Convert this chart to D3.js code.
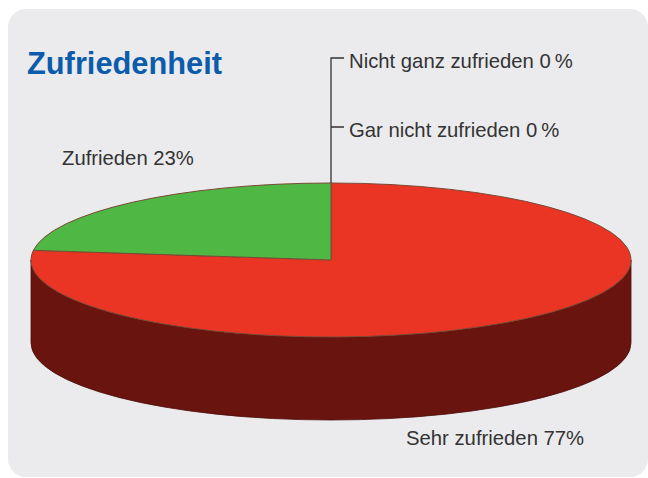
<!DOCTYPE html>
<html lang="de">
    <head>
        <meta charset="utf-8">
        <title>Zufriedenheit</title>
        <script src="https://cdn.jsdelivr.net/npm/d3@7"></script>
        <style>
            body { margin: 0; background: #ffffff; }
            svg { display: block; }
            text { font-family: "Liberation Sans", Arial, sans-serif; }
        </style>
    </head>

    <body>
        <script>
            // Werte aus der Grafik
            var categories = ["Sehr zufrieden", "Zufrieden", "Gar nicht zufrieden", "Nicht ganz zufrieden"];
            var values = [77, 23, 0, 0];
            var valueLabels = ["77%", "23%", "0\u2009%", "0\u2009%"];
            var colors = ["#ea3424", "#4fb744", "#999999", "#999999"];
            var sideColors = ["#6a140f", "#2f6e28", "#555555", "#555555"];

            var w = 648;
            var h = 478;

            var svg = d3.select("body")
                        .append("svg")
                        .attr("width", w)
                        .attr("height", h);

            // grauer Hintergrund
            svg.append("rect")
                .attr("x", 8)
                .attr("y", 9)
                .attr("width", 640)
                .attr("height", 468)
                .attr("rx", 18)
                .attr("fill", "#ebebee");

            svg.append("text")
                .text("Zufriedenheit")
                .attr("x", 27)
                .attr("y", 74)
                .attr("font-size", "30.8px")
                .attr("font-weight", "bold")
                .attr("fill", "#0b5cab");

            // Tortengeometrie
            var cx = 331, cy = 260;
            var rx = 300, ry = 77;
            var depth = 83;

            var pie = d3.pie().sort(null).value(function(d) { return d; });
            var arcs = pie(values);

            function pt(a, dy) {
                return [cx + rx * Math.sin(a), cy - ry * Math.cos(a) + (dy || 0)];
            }

            // Seitenflaechen (nur vordere Haelfte sichtbar)
            var sides = svg.append("g");
            arcs.forEach(function(d, i) {
                var a0 = Math.max(d.startAngle, Math.PI / 2);
                var a1 = Math.min(d.endAngle, Math.PI * 3 / 2);
                if (a1 <= a0) return;
                var p0 = pt(a0), p1 = pt(a1), q1 = pt(a1, depth), q0 = pt(a0, depth);
                var large = (a1 - a0) > Math.PI ? 1 : 0;
                var path = "M" + p0 + "A" + rx + "," + ry + " 0 " + large + " 1 " + p1 +
                           "L" + q1 + "A" + rx + "," + ry + " 0 " + large + " 0 " + q0 + "Z";
                sides.append("path")
                    .attr("d", path)
                    .attr("fill", sideColors[i])
                    .attr("stroke", "#4a0c08")
                    .attr("stroke-width", 0.8);
            });

            // Deckflaeche
            var arc = d3.arc().innerRadius(0).outerRadius(rx);
            var topFace = svg.append("g")
                        .attr("transform", "translate(" + cx + "," + cy + ") scale(1," + (ry / rx) + ")");
            topFace.selectAll("path")
                .data(arcs.filter(function(d) { return d.value > 0; }))
                .enter()
                .append("path")
                .attr("d", arc)
                .attr("fill", function(d) { return colors[d.index]; })
                .attr("stroke", "#7a4a35")
                .attr("stroke-width", 1)
                .attr("vector-effect", "non-scaling-stroke");

            // Beschriftungen
            var labelColor = "#333333";
            var topPt = pt(0);

            svg.append("path")
                .attr("d", "M" + topPt + "V58H344M" + topPt[0] + ",127H344")
                .attr("fill", "none")
                .attr("stroke", "#333333")
                .attr("stroke-width", 1.3);

            var labels = [
                { i: 3, x: 349, y: 68 },
                { i: 2, x: 349, y: 137 },
                { i: 1, x: 62, y: 165 },
                { i: 0, x: 406, y: 445 }
            ];
            svg.selectAll("text.label")
                .data(labels)
                .enter()
                .append("text")
                .attr("class", "label")
                .text(function(d) { return categories[d.i] + " " + valueLabels[d.i]; })
                .attr("x", function(d) { return d.x; })
                .attr("y", function(d) { return d.y; })
                .attr("font-size", "20.3px")
                .attr("fill", labelColor);
        </script>
    </body>
</html>
